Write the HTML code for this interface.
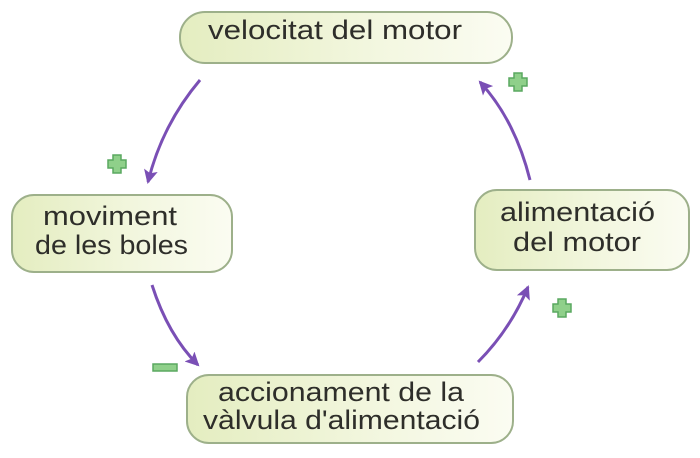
<!DOCTYPE html>
<html><head><meta charset="utf-8"><style>html,body{margin:0;padding:0;background:#fff}svg{display:block}</style></head><body>
<svg width="700" height="458" viewBox="0 0 700 458" xmlns="http://www.w3.org/2000/svg">
<defs>
<linearGradient id="g" x1="0" y1="0" x2="1" y2="0">
<stop offset="0" stop-color="#e4edc0"/><stop offset="0.6" stop-color="#f3f7e0"/><stop offset="1" stop-color="#fbfcf2"/>
</linearGradient>
<marker id="ah" markerWidth="16" markerHeight="14" refX="12" refY="7" orient="auto" markerUnits="userSpaceOnUse">
<path d="M0,0 L14,7 L0,14 L3,7 Z" fill="#7a4fb5"/>
</marker>
</defs>
<g fill="url(#g)" stroke="#9db08a" stroke-width="2">
<rect x="180" y="12" width="332" height="51" rx="25"/>
<rect x="12" y="195" width="220" height="77" rx="22"/>
<rect x="475" y="190" width="214" height="80" rx="22"/>
<rect x="187" y="375" width="326" height="68" rx="22"/>
</g>
<g font-family="Liberation Sans, sans-serif" font-size="27" fill="#2e2e2a">
<text x="208" y="39" textLength="254" lengthAdjust="spacingAndGlyphs">velocitat del motor</text>
<text x="43" y="225" textLength="134" lengthAdjust="spacingAndGlyphs">moviment</text>
<text x="35" y="254" textLength="153" lengthAdjust="spacingAndGlyphs">de les boles</text>
<text x="500" y="221" textLength="155" lengthAdjust="spacingAndGlyphs">alimentació</text>
<text x="513" y="251" textLength="128" lengthAdjust="spacingAndGlyphs">del motor</text>
<text x="218" y="401" textLength="246" lengthAdjust="spacingAndGlyphs">accionament de la</text>
<text x="203" y="429" textLength="277" lengthAdjust="spacingAndGlyphs">vàlvula d'alimentació</text>
</g>
<g fill="none" stroke="#7a4fb5" stroke-width="3" marker-end="url(#ah)">
<path d="M200,80 Q162,125 148,182"/>
<path d="M152,285 Q168,335 198,365"/>
<path d="M478,362 Q510,330 528,287"/>
<path d="M530,180 Q515,120 480,82"/>
</g>
<g fill="#8fd08a" stroke="#5aa860" stroke-width="1.5">
<path d="M113,155 h8 v5 h5 v8 h-5 v5 h-8 v-5 h-5 v-8 h5 z"/>
<path d="M514,73 h8 v5 h5 v8 h-5 v5 h-8 v-5 h-5 v-8 h5 z"/>
<path d="M558,299 h8 v5 h5 v8 h-5 v5 h-8 v-5 h-5 v-8 h5 z"/>
<rect x="153" y="364" width="24" height="7"/>
</g>
</svg>
</body></html>
